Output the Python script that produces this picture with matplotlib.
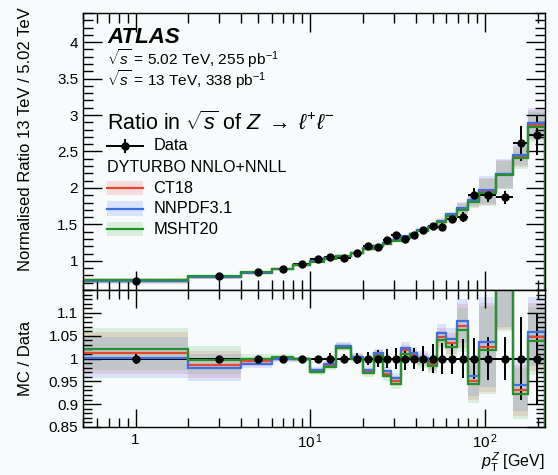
import numpy as np
import matplotlib
matplotlib.use('Agg')
import matplotlib.pyplot as plt
from matplotlib.lines import Line2D
from matplotlib.patches import Rectangle
from matplotlib.ticker import FixedLocator, FixedFormatter, MultipleLocator

plt.rcParams['font.family'] = ['Liberation Sans', 'DejaVu Sans']
plt.rcParams['mathtext.fontset'] = 'custom'
plt.rcParams['mathtext.rm'] = 'Liberation Sans'
plt.rcParams['mathtext.it'] = 'Liberation Sans:italic'
plt.rcParams['mathtext.bf'] = 'Liberation Sans:bold'

# pT(Z) bin edges [GeV]
edges = [0, 2, 4, 6, 8, 10, 12, 14, 17, 20, 23, 26, 29, 33, 37, 41, 47, 53, 60,
         69, 80, 92, 115, 145, 175, 220]

# normalised 13 TeV / 5.02 TeV ratio, data
data = [0.72, 0.79, 0.845, 0.89, 0.95, 1.02, 1.05, 1.035, 1.11, 1.20, 1.19,
        1.28, 1.35, 1.305, 1.36, 1.42, 1.48, 1.47, 1.57, 1.60, 1.91, 1.90,
        1.87, 2.61, 2.73]
# relative data uncertainty
data_relerr = [0.013, 0.005, 0.004, 0.004, 0.005, 0.004, 0.012, 0.010, 0.012,
               0.015, 0.019, 0.021, 0.023, 0.026, 0.024, 0.027, 0.031, 0.034,
               0.035, 0.042, 0.045, 0.047, 0.048, 0.09, 0.10]

# DYTURBO prediction / data
ratio_ct18 = [1.0125, 0.986, 0.9935, 1.0, 0.999, 0.973, 0.985, 1.026, 1.002,
              0.972, 1.009, 0.966, 0.951, 1.018, 1.007, 0.998, 0.988, 1.046,
              1.033, 1.071, 0.951, 1.025, 1.17, 0.931, 1.047]
ratio_nnpdf = [1.002, 0.980, 0.988, 0.998, 0.998, 0.974, 0.988, 1.028, 1.004,
               0.975, 1.012, 0.972, 0.957, 1.023, 1.011, 1.002, 0.993, 1.055,
               1.043, 1.082, 0.962, 1.037, 1.175, 0.942, 1.059]
ratio_msht = [1.021, 0.9965, 0.999, 1.003, 0.999, 0.971, 0.982, 1.024, 0.999,
              0.968, 1.006, 0.961, 0.945, 1.009, 1.004, 0.994, 0.984, 1.040,
              1.025, 1.063, 0.944, 1.018, 1.165, 0.923, 1.038]
# relative theory uncertainty (same for all PDF sets)
theory_relerr = [0.045, 0.03, 0.01, 0.006, 0.005, 0.007, 0.007, 0.008, 0.008,
                 0.008, 0.009, 0.010, 0.012, 0.012, 0.013, 0.014, 0.016, 0.020,
                 0.022, 0.045, 0.045, 0.095, 0.09, 0.06, 0.072]

edges = np.array(edges, dtype=float)
data = np.array(data)
centers = 0.5 * (edges[1:] + edges[:-1])
halfw = 0.5 * (edges[1:] - edges[:-1])
data_err = data * np.array(data_relerr)
terr = np.array(theory_relerr)

models = [
    ('CT18', np.array(ratio_ct18), '#e8472e', '#ff3030'),
    ('NNPDF3.1', np.array(ratio_nnpdf), '#3d6fe8', '#3060ff'),
    ('MSHT20', np.array(ratio_msht), '#23922a', '#30b030'),
]
band_alpha = 0.15

bg = '#f7fbfc'
fig = plt.figure(figsize=(5.58, 4.75), dpi=100, facecolor=bg)
W, H = 558.0, 475.0
ax1 = fig.add_axes([83 / W, 1 - 290 / H, 462 / W, 277 / H])
ax2 = fig.add_axes([83 / W, 1 - 427 / H, 462 / W, 137 / H], sharex=ax1)

for ax in (ax1, ax2):
    ax.set_facecolor(bg)
    ax.set_xscale('log')
    ax.set_xlim(0.5, 220)
    for s in ax.spines.values():
        s.set_linewidth(1.0)
        s.set_zorder(10)

# uncertainty bands first, then central lines
for name, r, lc, fc in models:
    pred = data * r
    ax1.stairs(pred * (1 + terr), edges, baseline=pred * (1 - terr), fill=True,
               color=fc, alpha=band_alpha, lw=0, zorder=1)
    ax2.stairs(r * (1 + terr), edges, baseline=r * (1 - terr), fill=True,
               color=fc, alpha=band_alpha, lw=0, zorder=1)

# data error bars sit under the prediction lines, markers on top
ax1.errorbar(centers, data, xerr=halfw, yerr=data_err, fmt='none', ecolor='k',
             lw=1.4, capsize=0, zorder=2)
ax2.axhline(1.0, color='k', lw=1.4, zorder=2)
ax2.errorbar(centers, np.ones_like(data), xerr=halfw, yerr=data_relerr,
             fmt='none', ecolor='k', lw=1.4, capsize=0, zorder=2)

for name, r, lc, fc in models:
    pred = data * r
    ax1.stairs(pred, edges, color=lc, lw=1.6, zorder=3)
    ax2.stairs(r, edges, color=lc, lw=1.6, zorder=3)

ax1.plot(centers, data, 'o', color='k', ms=5, zorder=5)
ax2.plot(centers, np.ones_like(data), 'o', color='k', ms=5, zorder=5)

ax1.set_ylim(0.6, 4.4)
ax2.set_ylim(0.85, 1.15)

ax1.set_yticks([1, 1.5, 2, 2.5, 3, 3.5, 4])
ax1.set_yticklabels(['1', '1.5', '2', '2.5', '3', '3.5', '4'])
ax1.yaxis.set_minor_locator(MultipleLocator(0.1))
ax2.yaxis.set_major_locator(FixedLocator([0.85, 0.9, 0.95, 1.0, 1.05, 1.1]))
ax2.yaxis.set_major_formatter(FixedFormatter(['0.85', '0.9', '0.95', '1', '1.05', '1.1']))
ax2.yaxis.set_minor_locator(MultipleLocator(0.01))

ax2.xaxis.set_major_locator(FixedLocator([1, 10, 100]))
ax2.xaxis.set_major_formatter(FixedFormatter(['1', r'$10^{\,1}$', r'$10^{\,2}$']))
minor = [m * d for d in (0.1, 1, 10, 100) for m in range(2, 10)]
ax2.xaxis.set_minor_locator(FixedLocator(minor))
ax2.xaxis.set_minor_formatter(FixedFormatter([''] * len(minor)))

for ax, big, small in ((ax1, 14, 7), (ax2, 13, 6.5)):
    ax.tick_params(which='both', direction='in', top=True, right=True,
                   width=1.0, labelsize=11)
    ax.tick_params(which='major', length=big)
    ax.tick_params(which='minor', length=small)
    ax.tick_params(axis='x', which='major', pad=4)
ax1.tick_params(labelbottom=False)

ax1.set_ylabel('Normalised Ratio 13 TeV / 5.02 TeV', fontsize=12)
ax2.set_ylabel('MC / Data', fontsize=12)
ax1.yaxis.set_label_coords(-0.108, 0.545)
ax2.yaxis.set_label_coords(-0.108, 0.5)
ax2.set_xlabel(r'$p_{\mathrm{T}}^{Z}$ [GeV]', fontsize=11.5, loc='right')
ax2.xaxis.set_label_coords(1.0, -0.175)

# labels and legend
t = ax1.transAxes
ax1.text(0.052, 0.91, 'ATLAS', transform=t, fontsize=16, fontweight='bold',
         fontstyle='italic', va='center')
ax1.text(0.052, 0.835, r'$\sqrt{s}$ = 5.02 TeV, 255 pb$^{-1}$', transform=t,
         fontsize=11.1, va='center')
ax1.text(0.052, 0.760, r'$\sqrt{s}$ = 13 TeV, 338 pb$^{-1}$', transform=t,
         fontsize=11.1, va='center')
ax1.text(0.052, 0.603, r'Ratio in $\sqrt{s}$ of $Z\;\rightarrow\;\ell^{+}\ell^{-}$',
         transform=t, fontsize=15.5, va='center')

x0, x1, xt = 0.052, 0.130, 0.152
yd = 0.52
ax1.add_line(Line2D([x0, x1], [yd, yd], color='k', lw=1.4, transform=t))
ax1.add_line(Line2D([0.5 * (x0 + x1)], [yd], marker='o', ms=5, color='k', transform=t))
ax1.add_line(Line2D([0.5 * (x0 + x1)] * 2, [yd - 0.02, yd + 0.02], color='k', lw=1.4, transform=t))
ax1.text(xt, yd, 'Data', transform=t, fontsize=11.8, va='center')
ax1.text(x0, 0.444, 'DYTURBO NNLO+NNLL', transform=t, fontsize=11.6, va='center')
for (name, r, lc, fc), yy in zip(models, (0.368, 0.294, 0.22)):
    ax1.add_patch(Rectangle((x0, yy - 0.026), x1 - x0, 0.052, transform=t,
                            color=fc, alpha=band_alpha, lw=0))
    ax1.add_line(Line2D([x0, x1], [yy, yy], color=lc, lw=1.6, transform=t))
    ax1.text(xt, yy, name, transform=t, fontsize=11.8, va='center')

fig.savefig('out.png', dpi=100, facecolor=bg)
